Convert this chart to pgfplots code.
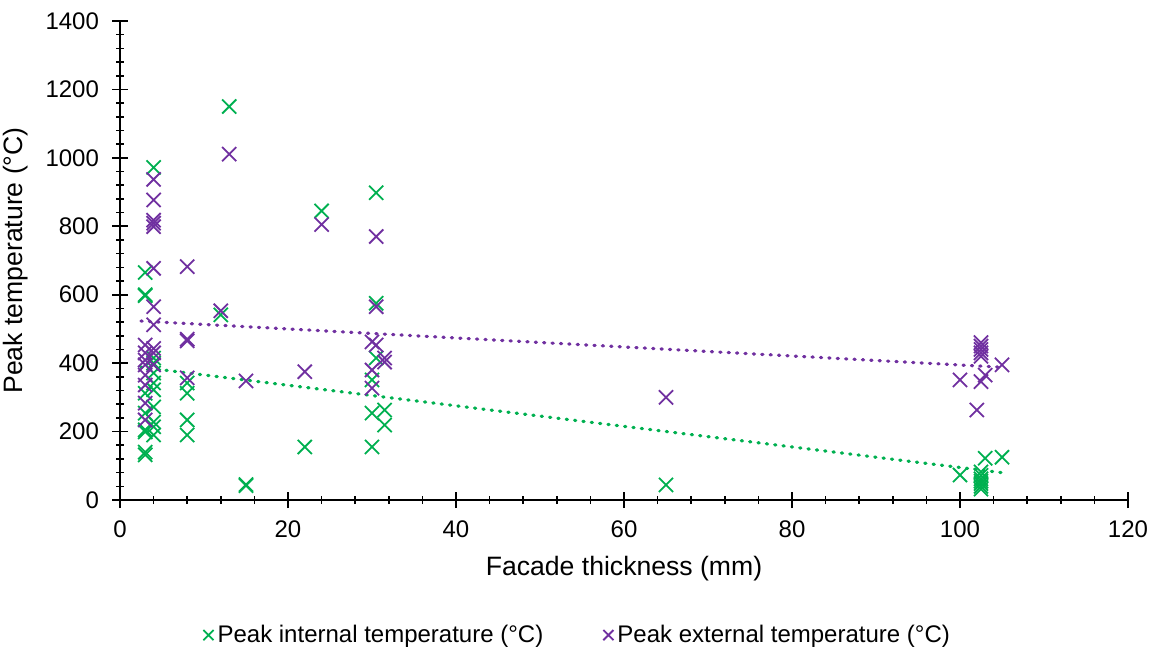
\documentclass[border=0pt]{standalone}
\usepackage{pgfplots}
\pgfplotsset{compat=1.18}
\usepackage{fontspec}
\setmainfont{Liberation Sans}
\definecolor{intg}{HTML}{00B050}
\definecolor{extp}{HTML}{7030A0}
\begin{document}
\begin{tikzpicture}
\useasboundingbox (0,0) rectangle (576pt,324.5pt);
\begin{axis}[
  at={(60pt,74.5pt)}, anchor=south west,
  scale only axis, width=504pt, height=239.5pt,
  xmin=0, xmax=120, ymin=0, ymax=1400,
  xtick={0,20,...,120}, ytick={0,200,...,1400},
  minor x tick num=4, minor y tick num=4,
  axis x line*=bottom, axis y line*=left,
  axis line style={black, line width=0.8pt, -},
  tick align=center,
  major tick length=8pt, minor tick length=4pt,
  every tick/.style={black, line width=0.8pt},
  /pgf/number format/assume math mode=true,
  /pgf/number format/1000 sep={},
  tick label style={font=\fontsize{12}{14}\selectfont},
  xticklabel style={yshift=-3pt},
  yticklabel style={xshift=-3pt},
  xlabel={Facade thickness (mm)},
  ylabel={Peak temperature (°C)},
  label style={font=\fontsize{13.3}{15}\selectfont},
  xlabel style={yshift=-2pt},
  ylabel style={yshift=2pt},
  clip=false,
  legend columns=2,
  legend style={at={(0.455,-0.282)}, anchor=center, draw=none, fill=none,
    font=\fontsize{12}{14}\selectfont,
    /tikz/every even column/.append style={column sep=28pt}},
  legend cell align=left,
]
\addplot[only marks, mark=x, mark size=5pt, intg, mark options={line width=0.9pt},
  legend image code/.code={\draw[mark=x, mark size=3.6pt, line width=0.75pt] plot coordinates {(0.22cm,0cm)};}]
coordinates {
(3,665)(3,600)(3,597)(3,312)(3,254)(3,205)(3,199)(3,140)(3,132)
(4,972)(4,415)(4,400)(4,371)(4,342)(4,322)(4,272)(4,228)(4,214)(4,190)
(8,342)(8,312)(8,234)(8,190)
(12,541)(13,1150)(15,45)(15,42)(22,155)(24,845)
(30,351)(30,254)(30,155)(30.5,898)(30.5,575)(30.5,415)(31.5,263)(31.5,219)
(65,44)(100,73)
(102.5,82)(102.5,72)(102.5,62)(102.5,55)(102.5,48)(102.5,40)(102.5,32)
(103,122)(105,125)
};
\addlegendentry{Peak internal temperature (°C)}
\addplot[only marks, mark=x, mark size=5pt, extp, mark options={line width=0.9pt},
  legend image code/.code={\draw[mark=x, mark size=3.6pt, line width=0.75pt] plot coordinates {(0.22cm,0cm)};}]
coordinates {
(3,453)(3,430)(3,409)(3,395)(3,365)(3,336)(3,283)(3,234)
(4,937)(4,877)(4,818)(4,809)(4,799)(4,677)(4,565)(4,512)(4,443)(4,430)(4,395)
(8,682)(8,470)(8,465)(8,357)
(12,553)(13,1011)(15,348)(22,375)(24,805)
(30,462)(30,380)(30,327)(30.5,770)(30.5,565)(30.5,453)(31.5,415)(31.5,403)
(65,300)(100,351)(102,263)
(102.5,460)(102.5,450)(102.5,440)(102.5,430)(102.5,420)(102.5,346)
(103,365)(105,395)
};
\addlegendentry{Peak external temperature (°C)}
\addplot[intg, line width=1.6pt, line cap=round, dash pattern=on 0.6pt off 3.6pt, forget plot]
coordinates {(2.5,388)(105,80)};
\addplot[extp, line width=1.6pt, line cap=round, dash pattern=on 0.6pt off 3.6pt, forget plot]
coordinates {(2.5,523)(105,388)};
\end{axis}
\end{tikzpicture}
\end{document}
